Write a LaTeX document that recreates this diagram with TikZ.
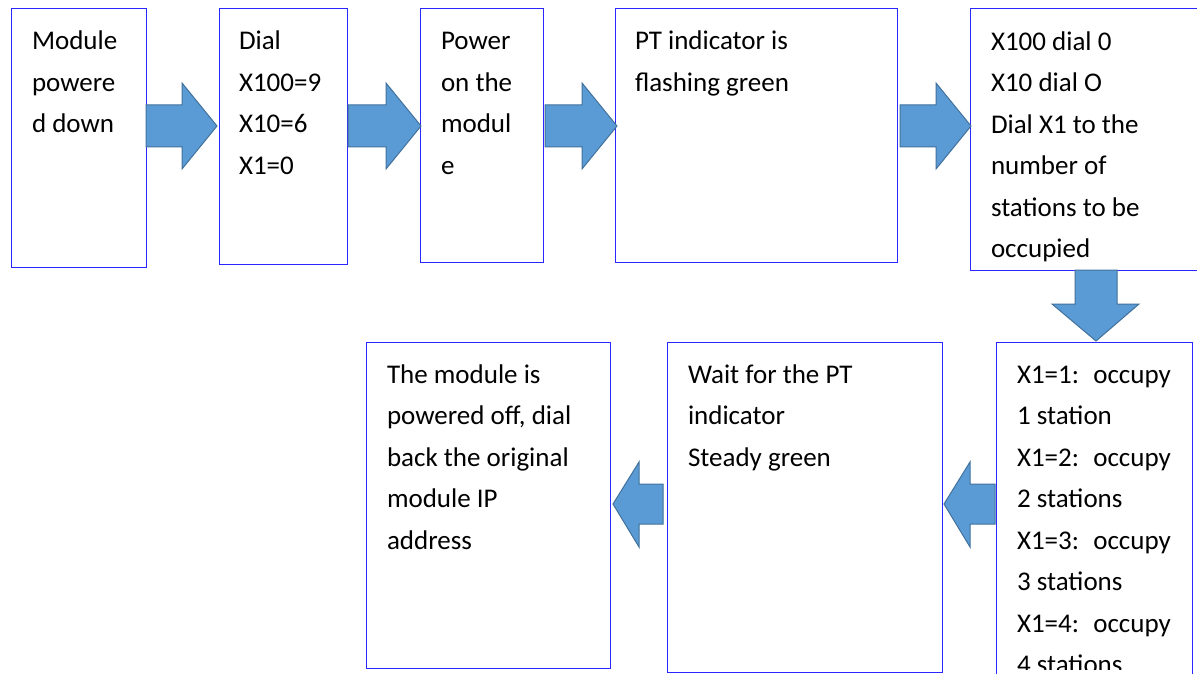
\documentclass[tikz,border=0pt]{standalone}
\usepackage{fontspec}
\setmainfont{Carlito}
\newcommand\firststrut{\rule{0pt}{22pt}}
\begin{document}
\begin{tikzpicture}[x=1pt,y=-1pt,
  box/.style={draw=boxblue,line width=1pt,anchor=north west,inner sep=0pt,outer sep=0pt},
  txt/.style={anchor=north west,inner sep=0pt,outer sep=0pt,align=left,
    font=\fontsize{27}{41.5}\selectfont},
  blk/.style={fill=arrowfill,draw=arrowdraw,line width=1pt,line join=miter}]
\definecolor{boxblue}{RGB}{40,40,255}
\definecolor{arrowfill}{RGB}{91,155,213}
\definecolor{arrowdraw}{RGB}{65,113,156}
\clip (0,0) rectangle (1197,674);
\fill[white] (0,0) rectangle (1197,674);
% boxes
\node[box,minimum width=135pt,minimum height=258pt] (b1) at (11,9) {};
\node[box,minimum width=128pt,minimum height=255pt] (b2) at (219,9) {};
\node[box,minimum width=123pt,minimum height=253pt] (b3) at (420,9) {};
\node[box,minimum width=282pt,minimum height=253pt] (b4) at (615,9) {};
\node[box,minimum width=250pt,minimum height=261pt] (b5) at (970,9) {};
\node[box,minimum width=196pt,minimum height=360pt] (b6) at (996,342) {};
\node[box,minimum width=275pt,minimum height=330pt] (b7) at (667,342) {};
\node[box,minimum width=244pt,minimum height=326pt] (b8) at (366,342) {};
% texts
\node[txt] (t1) at (32,28) {\firststrut Module\\powere\\d down};
\node[txt] (t2) at (239,28) {\firststrut Dial\\X100=9\\X10=6\\X1=0};
\node[txt] (t3) at (441,28) {\firststrut Power\\on the\\modul\\e};
\node[txt] (t4) at (635,28) {\firststrut PT indicator is\\flashing green};
\node[txt] (t5) at (991,28) {\firststrut X100 dial 0\\X10 dial O\\Dial X1 to the\\number of\\stations to be\\occupied};
\begin{scope}
\clip (996,342) rectangle (1192,669);
\node[txt] (t6) at (1017,361) {\firststrut X1=1:~ occupy\\1 station\\X1=2:~ occupy\\2 stations\\X1=3:~ occupy\\3 stations\\X1=4:~ occupy\\4 stations};
\end{scope}
\node[txt] (t7) at (688,361) {\firststrut Wait for the PT\\indicator\\Steady green};
\node[txt] (t8) at (387,361) {\firststrut The module is\\powered off, dial\\back the original\\module IP\\address};
% block arrows right
\draw[blk] (146,105) -- (182,105) -- (182,83) -- (217,126) -- (182,169) -- (182,147) -- (146,147) -- cycle;
\draw[blk] (348,105) -- (386,105) -- (386,83) -- (421,126) -- (386,169) -- (386,147) -- (348,147) -- cycle;
\draw[blk] (545,105) -- (582,105) -- (582,83) -- (617,126) -- (582,169) -- (582,147) -- (545,147) -- cycle;
\draw[blk] (900,105) -- (936,105) -- (936,83) -- (971,126) -- (936,169) -- (936,147) -- (900,147) -- cycle;
% down arrow
\draw[blk] (1075,270) -- (1075,304) -- (1052,304) -- (1096,341) -- (1139,304) -- (1117,304) -- (1117,270) -- cycle;
% left arrows
\draw[blk] (995,484) -- (970,484) -- (970,462) -- (944,504) -- (970,547) -- (970,524) -- (995,524) -- cycle;
\draw[blk] (663,484) -- (639,484) -- (639,462) -- (613,504) -- (639,547) -- (639,524) -- (663,524) -- cycle;
\end{tikzpicture}
\end{document}
